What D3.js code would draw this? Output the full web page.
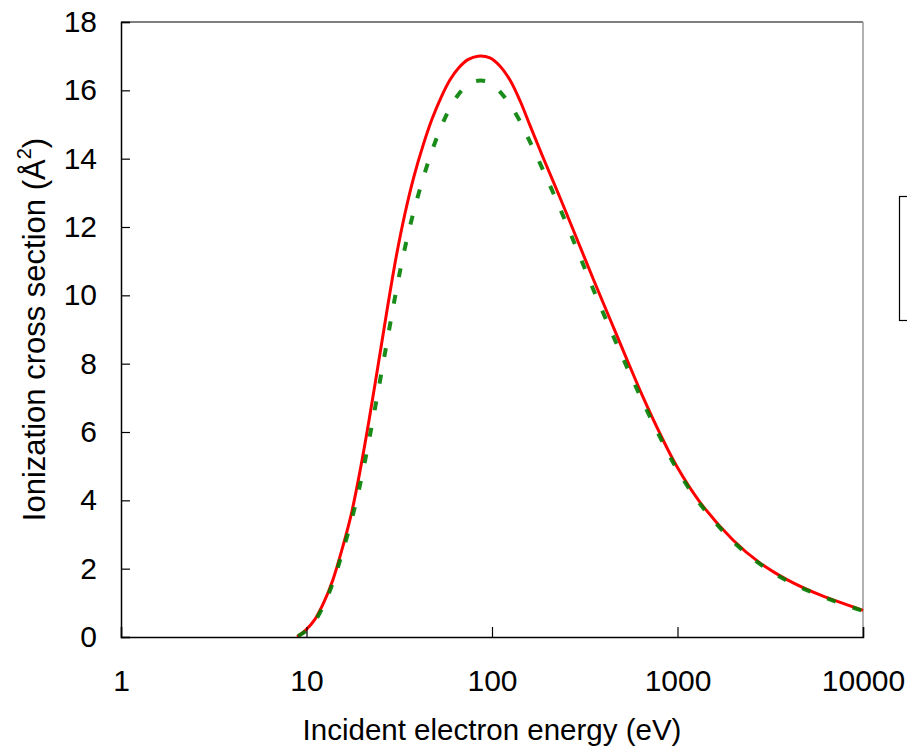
<!DOCTYPE html>
<html>
<head>
<meta charset="utf-8">
<script src="https://cdn.jsdelivr.net/npm/d3@7"></script>
<style>
  body { margin: 0; background: #fff; }
  svg { display: block; font-family: "Liberation Sans", Arial, sans-serif; }
</style>
</head>
<body>
<div id="chart"></div>
<script>
// energies (eV) and cross sections (A^2)
var energyRed = [8.9, 9.9, 11.1, 12.4, 13.9, 15.5, 17.4, 19.4, 21.7, 24.3, 27.2, 30.4, 34, 38, 42.5, 47.5, 53.1, 59.4, 66.4, 74.2, 84, 97.5, 110, 125, 142, 160, 188, 233, 287, 350, 433, 534, 652, 805, 994, 1320, 1990, 2780, 3890, 5870, 10000];
var sigmaRed  = [0, 0.2, 0.515, 1.01, 1.685, 2.54, 3.575, 4.835, 6.32, 7.94, 9.58, 11.11, 12.41, 13.49, 14.39, 15.16, 15.79, 16.31, 16.67, 16.9, 17.0, 16.95, 16.72, 16.3, 15.68, 14.98, 14.05, 12.85, 11.65, 10.5, 9.3, 8.12, 7.02, 5.95, 4.98, 3.95, 2.84, 2.17, 1.68, 1.23, 0.78];

var energyGreen = [9.0, 9.9, 11.1, 12.4, 13.9, 15.5, 17.4, 19.4, 21.7, 24.3, 27.2, 30.4, 34, 38, 42.5, 47.5, 53.1, 59.4, 66.4, 74.2, 84, 97.5, 110, 125, 142, 160, 188, 233, 287, 350, 433, 534, 652, 805, 994, 1320, 1990, 2780, 3890, 5870, 10000];
var sigmaGreen  = [0.03, 0.17, 0.465, 0.94, 1.6, 2.42, 3.375, 4.435, 5.74, 7.18, 8.66, 10.11, 11.41, 12.49, 13.42, 14.23, 14.92, 15.49, 15.9, 16.17, 16.28, 16.23, 15.97, 15.58, 15.08, 14.5, 13.68, 12.53, 11.35, 10.2, 9.02, 7.9, 6.87, 5.85, 4.91, 3.9, 2.8, 2.14, 1.65, 1.21, 0.76];

var xTicks = [1, 10, 100, 1000, 10000];
var yTicks = [0, 2, 4, 6, 8, 10, 12, 14, 16, 18];

var W = 907, H = 746;
var plotLeft = 121, plotRight = 863, plotTop = 22, plotBottom = 637;

var svg = d3.select("#chart").append("svg")
  .attr("width", W)
  .attr("height", H);

var x = d3.scaleLog().domain([1, 10000]).range([plotLeft, plotRight]);
var y = d3.scaleLinear().domain([0, 18]).range([plotBottom, plotTop]);

// plot frame (top and right in grey)
svg.append("line").attr("x1", plotLeft).attr("x2", plotRight).attr("y1", plotTop).attr("y2", plotTop)
  .attr("stroke", "#555").attr("stroke-width", 1.5);
svg.append("line").attr("x1", plotRight).attr("x2", plotRight).attr("y1", plotTop).attr("y2", plotBottom)
  .attr("stroke", "#999").attr("stroke-width", 1.5);

// curves
var line = d3.line()
  .x(function(d){ return x(d[0]); })
  .y(function(d){ return y(d[1]); })
  .curve(d3.curveCatmullRom.alpha(0.5));

var red = energyRed.map(function(e, i){ return [e, sigmaRed[i]]; });
var green = energyGreen.map(function(e, i){ return [e, sigmaGreen[i]]; });

svg.append("path").datum(red)
  .attr("d", line)
  .attr("fill", "none")
  .attr("stroke", "#ff0000")
  .attr("stroke-width", 3);

svg.append("path").datum(green)
  .attr("d", line)
  .attr("fill", "none")
  .attr("stroke", "#008000")
  .attr("stroke-opacity", 0.9)
  .attr("stroke-width", 4)
  .attr("stroke-dasharray", "9,18");

// axes
var xAxis = svg.append("g")
  .attr("transform", "translate(0," + plotBottom + ")")
  .call(d3.axisBottom(x).tickValues(xTicks).tickFormat(d3.format("d")).tickSize(-10).tickPadding(33));

var yAxis = svg.append("g")
  .attr("transform", "translate(" + plotLeft + ",0)")
  .call(d3.axisLeft(y).tickValues(yTicks).tickSize(-9).tickPadding(24));

[xAxis, yAxis].forEach(function(a){
  a.select(".domain").attr("stroke", "#000").attr("stroke-width", 1.5);
  a.selectAll(".tick line").attr("stroke", "#000").attr("stroke-width", 1.2);
  a.selectAll("text").attr("font-size", 30).attr("fill", "#000")
    .attr("font-family", "'Liberation Sans', Arial, sans-serif");
});

// axis titles
svg.append("text")
  .attr("x", (plotLeft + plotRight) / 2)
  .attr("y", 740)
  .attr("text-anchor", "middle")
  .attr("font-size", 29.5)
  .text("Incident electron energy (eV)");

var yt = svg.append("text")
  .attr("transform", "translate(45," + (plotTop + plotBottom) / 2 + ") rotate(-90)")
  .attr("text-anchor", "middle")
  .attr("font-size", 31);
yt.append("tspan").text("Ionization cross section (Å");
yt.append("tspan").attr("font-size", 20).attr("dy", -14).text("2");
yt.append("tspan").attr("dy", 14).text(")");

// legend box, mostly outside the picture
svg.append("rect")
  .attr("x", 899.5).attr("y", 196.5)
  .attr("width", 200).attr("height", 124)
  .attr("fill", "#fff")
  .attr("stroke", "#000")
  .attr("stroke-width", 1.2);
</script>
</body>
</html>
